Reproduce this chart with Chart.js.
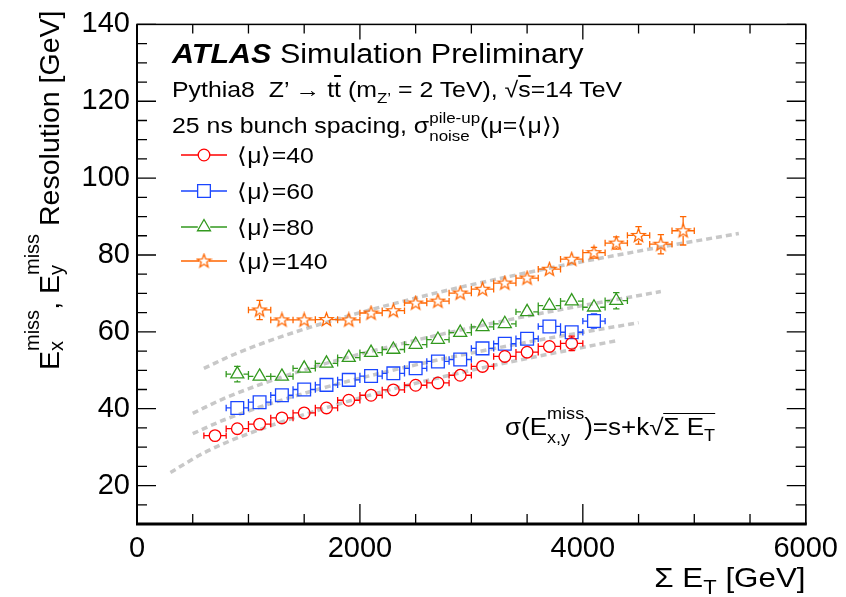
<!DOCTYPE html>
<html>
<head>
<meta charset="utf-8">
<title>MET resolution vs sum ET</title>
<script src="https://cdn.jsdelivr.net/npm/chart.js@4.4.1/dist/chart.umd.min.js"></script>
<style>
  html, body { margin: 0; padding: 0; background: #fff; }
  #wrap { position: relative; width: 846px; height: 597px; overflow: hidden;
          font-family: "Liberation Sans", Arial, Helvetica, sans-serif; color: #000; }
  #chart { position: absolute; left: 0; top: 0; }
  .t { position: absolute; white-space: nowrap; line-height: 1.6; transform-origin: 0 0; }
  .stk { position: relative; display: inline-block; line-height: 1; }
  .stk .lo { position: absolute; left: 0; }
  .ov { text-decoration: overline; }
</style>
</head>
<body>
<div id="wrap">
  <canvas id="chart" width="846" height="597"></canvas>

  <div class="t" style="left:172px; top:33px; font-size:27px; transform:scaleX(1.13)"><b><i>ATLAS</i></b> Simulation Preliminary</div>
  <div class="t" style="left:172px; top:72px; font-size:22px; transform:scaleX(1.13)">Pythia8&nbsp;&nbsp;Z’ → t<span class="ov">t</span> (m<span style="font-size:15px; vertical-align:-6px">Z’</span> = 2 TeV), √<span class="ov">s</span>=14 TeV</div>
  <div class="t" style="left:172px; top:108px; font-size:22px; transform:scaleX(1.13)">25 ns bunch spacing, σ<span class="stk" style="font-size:15px; vertical-align:10px">pile-up<span class="lo" style="top:18px">noise</span></span>(μ=⟨μ⟩)</div>

  <div class="t" style="left:505px; top:406px; font-size:23px; transform:scaleX(1.13)">σ(E<span class="stk" style="font-size:16px; vertical-align:16px">miss<span class="lo" style="top:24px">x,y</span></span>)=s+k√<span style="border-top:1.5px solid #000">Σ E<span style="font-size:16px; vertical-align:-6px">T</span></span></div>

  <div class="t" style="left:22px; top:370px; font-size:28.5px; transform:rotate(-90deg)">E<span class="stk" style="font-size:20px; vertical-align:20px">miss<span class="lo" style="top:24px">x</span></span>, E<span class="stk" style="font-size:20px; vertical-align:20px">miss<span class="lo" style="top:24px">y</span></span> Resolution [GeV]</div>
  <div class="t" style="right:40px; top:555px; font-size:28.5px; transform-origin:100% 0; transform:scaleX(1.1)">Σ E<span style="font-size:20px; vertical-align:-7px">T</span> [GeV]</div>
</div>

<script>
// Sigma ET bin centres [GeV] and MET resolution [GeV] per pile-up condition
const seriesLabels = ['⟨μ⟩=40', '⟨μ⟩=60', '⟨μ⟩=80', '⟨μ⟩=140'];
const seriesColors = ['#ff0000', '#1a46ff', '#33991f', '#ff6600'];

const x40 = [700, 900, 1100, 1300, 1500, 1700, 1900, 2100, 2300, 2500, 2700, 2900, 3100, 3300, 3500, 3700, 3900];
const y40 = [33.0, 34.8, 36.0, 37.6, 38.9, 40.2, 42.2, 43.5, 44.9, 46.1, 46.7, 48.7, 51.0, 53.6, 54.7, 56.2, 57.0];
const e40 = [0.6, 0.4, 0.4, 0.4, 0.4, 0.4, 0.4, 0.4, 0.4, 0.5, 0.5, 0.5, 0.6, 0.6, 0.7, 0.9, 1.9];

const x60 = [900, 1100, 1300, 1500, 1700, 1900, 2100, 2300, 2500, 2700, 2900, 3100, 3300, 3500, 3700, 3900, 4100];
const y60 = [40.2, 41.7, 43.5, 45.0, 46.2, 47.5, 48.5, 49.2, 50.5, 52.3, 52.8, 55.7, 56.9, 58.2, 61.4, 59.9, 62.8];
const e60 = [0.6, 0.4, 0.4, 0.4, 0.4, 0.4, 0.4, 0.4, 0.5, 0.5, 0.5, 0.6, 0.6, 0.7, 0.8, 1.4, 1.85];

const x80 = [900, 1100, 1300, 1500, 1700, 1900, 2100, 2300, 2500, 2700, 2900, 3100, 3300, 3500, 3700, 3900, 4100, 4300];
const y80 = [49.0, 48.4, 48.4, 50.5, 51.8, 53.3, 54.6, 55.4, 56.7, 58.0, 59.8, 61.3, 62.1, 65.2, 66.8, 68.0, 66.4, 68.1];
const e80 = [2.0, 0.6, 0.5, 0.5, 0.5, 0.5, 0.5, 0.5, 0.5, 0.6, 0.6, 0.6, 0.7, 0.8, 0.9, 1.3, 1.5, 2.1];

const x140 = [1100, 1300, 1500, 1700, 1900, 2100, 2300, 2500, 2700, 2900, 3100, 3300, 3500, 3700, 3900, 4100, 4300, 4500, 4700, 4900];
const y140 = [65.7, 63.1, 63.1, 63.2, 63.1, 64.9, 65.5, 67.5, 68.0, 70.1, 71.1, 72.7, 74.0, 76.3, 78.9, 80.6, 83.1, 85.1, 82.8, 86.3];
const e140 = [2.5, 1.3, 0.8, 0.8, 0.8, 0.8, 0.8, 0.8, 0.8, 0.8, 0.9, 0.9, 1.0, 1.0, 1.1, 1.4, 1.6, 2.3, 2.5, 3.7];

const binHalfWidth = 100;

const fit40X = [300, 600, 1000, 2000, 3000, 4300];
const fit40Y = [23.4, 28.5, 33.5, 42.8, 50.0, 57.7];
const fit60X = [500, 800, 1500, 2500, 3500, 4500];
const fit60Y = [33.5, 37.3, 44.0, 51.4, 57.3, 62.4];
const fit80X = [500, 800, 1500, 2500, 3500, 4700];
const fit80Y = [38.8, 42.9, 50.1, 57.8, 64.1, 70.5];
const fit140X = [600, 900, 1500, 2500, 3500, 4500, 5400];
const fit140Y = [50.5, 54.5, 60.7, 68.8, 75.4, 81.0, 85.6];

const xTicks = [0, 2000, 4000, 6000];
const yTicks = [20, 40, 60, 80, 100, 120, 140];

const toXY = (xs, ys) => xs.map((v, i) => ({ x: v, y: ys[i] }));

// open five-point star marker
function starMarker(color) {
  const c = document.createElement('canvas');
  c.width = 17; c.height = 17;
  const g = c.getContext('2d');
  g.strokeStyle = color;
  g.lineWidth = 1.3;
  g.beginPath();
  for (let i = 0; i < 10; i++) {
    const r = i % 2 === 0 ? 7 : 2.9;
    const a = -Math.PI / 2 + i * Math.PI / 5;
    const px = 8.5 + r * Math.cos(a), py = 8.8 + r * Math.sin(a);
    if (i === 0) g.moveTo(px, py); else g.lineTo(px, py);
  }
  g.closePath();
  g.stroke();
  return c;
}

const markers = [
  { pointStyle: 'circle', radius: 5.8, half: 5.8 },
  { pointStyle: 'rect', radius: 9, half: 6.4 },
  { pointStyle: 'triangle', radius: 7.5, half: 6.2 },
  { pointStyle: starMarker(seriesColors[3]), radius: 7, half: 5 }
];

const seriesX = [x40, x60, x80, x140];
const seriesY = [y40, y60, y80, y140];
const seriesE = [e40, e60, e80, e140];
const fitX = [fit40X, fit60X, fit80X, fit140X];
const fitY = [fit40Y, fit60Y, fit80Y, fit140Y];

const dataSets = seriesLabels.map((lab, k) => ({
  label: lab,
  data: toXY(seriesX[k], seriesY[k]),
  errY: seriesE[k],
  isData: true,
  order: 1,
  showLine: false,
  pointStyle: markers[k].pointStyle,
  pointRadius: markers[k].radius,
  pointBorderWidth: 1.3,
  pointBorderColor: seriesColors[k],
  pointBackgroundColor: 'rgba(0,0,0,0)'
}));

const fitSets = fitX.map((xs, k) => ({
  type: 'line',
  label: 'fit ' + seriesLabels[k],
  data: toXY(xs, fitY[k]),
  order: 2,
  borderColor: '#c8c8c8',
  borderWidth: 3.5,
  borderDash: [6, 4],
  pointRadius: 0,
  cubicInterpolationMode: 'monotone',
  fill: false
}));

// inward ticks on all four sides, ROOT style frame
const frameTicks = {
  id: 'frameTicks',
  afterDraw(chart) {
    const { ctx, chartArea: a, scales: { x, y } } = chart;
    ctx.save();
    ctx.strokeStyle = '#000';
    ctx.lineWidth = 1.3;
    ctx.beginPath();
    for (let v = 0; v <= 6000; v += 500) {
      const px = x.getPixelForValue(v);
      const major = xTicks.includes(v);
      ctx.moveTo(px, a.bottom); ctx.lineTo(px, a.bottom - (major ? 20 : 10));
      ctx.moveTo(px, a.top); ctx.lineTo(px, a.top + (major ? 15 : 9));
    }
    for (let v = 10; v <= 140; v += 5) {
      const py = y.getPixelForValue(v);
      const major = yTicks.includes(v);
      ctx.moveTo(a.left, py); ctx.lineTo(a.left + (major ? 19 : 10), py);
      ctx.moveTo(a.right, py); ctx.lineTo(a.right - (major ? 19 : 10), py);
    }
    ctx.stroke();
    ctx.lineWidth = 1.5;
    ctx.strokeRect(a.left, a.top, a.right - a.left, a.bottom - a.top);
    ctx.lineWidth = 2;
    ctx.beginPath();
    ctx.moveTo(a.left, a.top); ctx.lineTo(a.left, a.bottom);
    ctx.stroke();
    ctx.lineWidth = 3;
    ctx.beginPath();
    ctx.moveTo(a.left - 1, a.bottom); ctx.lineTo(a.right + 1, a.bottom);
    ctx.stroke();
    ctx.restore();
  }
};

// error bars, drawn outside the open markers
const errorBars = {
  id: 'errorBars',
  afterDatasetsDraw(chart) {
    const { ctx, scales: { x, y } } = chart;
    const cap = 3.2;
    ctx.save();
    ctx.lineWidth = 1.3;
    chart.data.datasets.forEach((ds, k) => {
      if (!ds.isData) return;
      const h = markers[k].half;
      ctx.strokeStyle = seriesColors[k];
      ctx.beginPath();
      ds.data.forEach((p, i) => {
        const px = x.getPixelForValue(p.x), py = y.getPixelForValue(p.y);
        const xl = x.getPixelForValue(p.x - binHalfWidth), xr = x.getPixelForValue(p.x + binHalfWidth);
        ctx.moveTo(xl, py); ctx.lineTo(px - h, py);
        ctx.moveTo(px + h, py); ctx.lineTo(xr, py);
        ctx.moveTo(xl, py - cap); ctx.lineTo(xl, py + cap);
        ctx.moveTo(xr, py - cap); ctx.lineTo(xr, py + cap);
        const yt = y.getPixelForValue(p.y + ds.errY[i]), yb = y.getPixelForValue(p.y - ds.errY[i]);
        if (py - yt > h) {
          ctx.moveTo(px, yt); ctx.lineTo(px, py - h);
          ctx.moveTo(px, py + h); ctx.lineTo(px, yb);
          ctx.moveTo(px - cap, yt); ctx.lineTo(px + cap, yt);
          ctx.moveTo(px - cap, yb); ctx.lineTo(px + cap, yb);
        }
      });
      ctx.stroke();
    });
    ctx.restore();
  }
};

// legend markers (text is html)
const legendRowsY = [155, 191, 227, 261];
const legendMarks = {
  id: 'legendMarks',
  afterDraw(chart) {
    const { ctx } = chart;
    ctx.save();
    ctx.lineWidth = 1.3;
    legendRowsY.forEach((ly, k) => {
      const m = markers[k];
      ctx.strokeStyle = seriesColors[k];
      ctx.fillStyle = 'rgba(0,0,0,0)';
      ctx.beginPath();
      ctx.moveTo(181, ly); ctx.lineTo(204 - m.half, ly);
      ctx.moveTo(204 + m.half, ly); ctx.lineTo(227, ly);
      ctx.stroke();
      Chart.helpers.drawPoint(ctx, { pointStyle: m.pointStyle, radius: m.radius, borderWidth: 1.3, rotation: 0 }, 204, ly);
    });
    ctx.restore();
  }
};

const wrap = document.getElementById('wrap');
legendRowsY.forEach((ly, k) => {
  const d = document.createElement('div');
  d.className = 't';
  d.style.left = '237px';
  d.style.top = (ly + 8 - 1.1465 * 22) + 'px';
  d.style.fontSize = '22px';
  d.style.transform = 'scaleX(1.13)';
  d.textContent = seriesLabels[k];
  wrap.appendChild(d);
});

const tickFont = { family: '"Liberation Sans", Arial, Helvetica, sans-serif', size: 29 };

new Chart(document.getElementById('chart'), {
  type: 'scatter',
  data: { datasets: [...dataSets, ...fitSets] },
  options: {
    responsive: false,
    animation: false,
    devicePixelRatio: 1,
    layout: { padding: { top: 20, right: 40, left: 0, bottom: 0 } },
    plugins: { legend: { display: false }, tooltip: { enabled: false } },
    scales: {
      x: {
        type: 'linear', min: 0, max: 6000,
        afterBuildTicks: s => { s.ticks = xTicks.map(v => ({ value: v })); },
        afterFit: s => { s.height = 73; },
        ticks: { font: tickFont, color: '#000', padding: 8, maxRotation: 0, autoSkip: false, callback: v => String(v) },
        grid: { display: false, drawTicks: false },
        border: { display: false }
      },
      y: {
        type: 'linear', min: 10, max: 140,
        afterBuildTicks: s => { s.ticks = yTicks.map(v => ({ value: v })); },
        afterFit: s => { s.width = 137; },
        ticks: { font: tickFont, color: '#000', padding: 7, callback: v => String(v) },
        grid: { display: false, drawTicks: false },
        border: { display: false }
      }
    }
  },
  plugins: [frameTicks, errorBars, legendMarks]
});
</script>
</body>
</html>
